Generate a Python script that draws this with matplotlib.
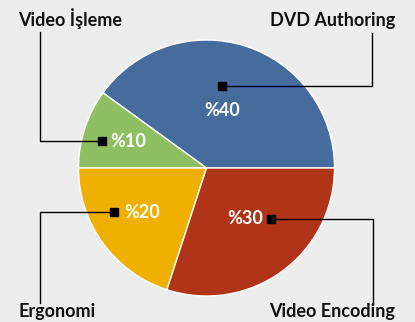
import matplotlib.pyplot as plt

# share of work per task (percent)
categories = ["DVD Authoring", "Video İşleme", "Ergonomi", "Video Encoding"]
shares = [40, 10, 20, 30]
colors = ["#456c9c", "#8ec063", "#f0b000", "#b03418"]

BG = "#ededed"
W, H = 415, 322

# layout in pixel space (y measured from top): value text, marker, elbow, label
layout = {
    "DVD Authoring": dict(text=(222, 110), marker=(222, 86), elbow=(372, 86), end=(372, 33), label=(333, 20)),
    "Video İşleme": dict(text=(128, 141), marker=(102, 141), elbow=(40, 141), end=(40, 32), label=(70, 19)),
    "Ergonomi": dict(text=(142, 212), marker=(114, 212), elbow=(40, 212), end=(40, 303), label=(57, 312)),
    "Video Encoding": dict(text=(245, 219), marker=(271, 219), elbow=(373, 219), end=(373, 303), label=(332, 312)),
}


def px(p):
    return p[0], H - p[1]


plt.rcParams["font.family"] = ["Lato", "DejaVu Sans"]

fig = plt.figure(figsize=(W / 100, H / 100), dpi=100, facecolor=BG)
ax = fig.add_axes([0, 0, 1, 1])
ax.set_facecolor(BG)

ax.pie(shares, colors=colors, startangle=0, counterclock=True,
       center=px((206.5, 168)), radius=128, frame=True,
       wedgeprops=dict(edgecolor="white", linewidth=1.0))

for name, val in zip(categories, shares):
    lay = layout[name]
    pts = [px(lay["marker"]), px(lay["elbow"]), px(lay["end"])]
    ax.plot([p[0] for p in pts], [p[1] for p in pts], color="black", lw=1.0,
            solid_joinstyle="miter", zorder=3)
    mx, my = px(lay["marker"])
    ax.plot(mx, my, marker="s", ms=6, color="black", zorder=4)
    tx, ty = px(lay["text"])
    ax.text(tx, ty, f"%{val}", color="white", fontsize=13, fontweight="bold",
            ha="center", va="center", zorder=5)
    lx, ly = px(lay["label"])
    ax.text(lx, ly, name, color="#111111", fontsize=13, fontweight="bold",
            ha="center", va="center", zorder=5)

ax.set_xlim(0, W)
ax.set_ylim(0, H)
ax.set_aspect("auto")
ax.axis("off")

fig.savefig("out.png", dpi=100, facecolor=BG)
